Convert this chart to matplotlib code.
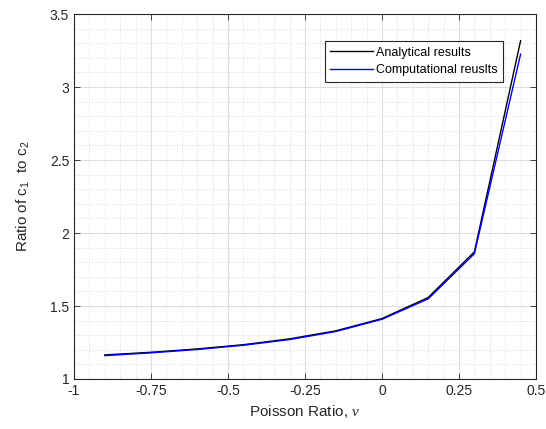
"""
Ratio of wave speeds c1/c2 against Poisson ratio, analytical vs computational
"""

import matplotlib
matplotlib.use("Agg")
import matplotlib.pyplot as plt
import numpy as np

plt.rcParams['font.family'] = ['Liberation Sans', 'DejaVu Sans']
plt.rcParams['mathtext.fontset'] = 'custom'
plt.rcParams['mathtext.rm'] = 'Liberation Sans'
plt.rcParams['mathtext.it'] = 'Liberation Serif:italic'

# data
poisson = [-0.9, -0.75, -0.6, -0.45, -0.3, -0.15, 0.0, 0.15, 0.3, 0.45]
analytical = [1.165, 1.183, 1.206, 1.235, 1.275, 1.330, 1.414, 1.558, 1.871, 3.317]
computational = [1.160, 1.179, 1.202, 1.231, 1.270, 1.325, 1.409, 1.549, 1.858, 3.225]

grey = (0.15, 0.15, 0.15)

fig = plt.figure(figsize=(5.46, 4.29), dpi=100)
ax = fig.add_axes([74/546, 1 - 379/429, (536 - 74)/546, (379 - 14)/429])

ax.plot(poisson, analytical, color="black", linewidth=1.0,
        label="Analytical results")
ax.plot(poisson, computational, color="blue", linewidth=1.0,
        label="Computational reuslts")

ax.set_xlim([-1, 0.5])
ax.set_ylim([1, 3.5])
ax.set_xticks(np.arange(-1, 0.51, 0.25))
ax.set_xticklabels(["-1", "-0.75", "-0.5", "-0.25", "0", "0.25", "0.5"])
ax.set_yticks(np.arange(1, 3.51, 0.5))
ax.set_yticklabels(["1", "1.5", "2", "2.5", "3", "3.5"])
ax.set_xticks(np.arange(-1, 0.51, 0.05), minor=True)
ax.set_yticks(np.arange(1, 3.51, 0.1), minor=True)

ax.grid(True, which="major", color=(0.87, 0.87, 0.87), linewidth=0.8)
ax.grid(True, which="minor", color=(0.82, 0.82, 0.82), linestyle=(0, (1, 2)),
        linewidth=0.6)
ax.set_axisbelow(True)

ax.tick_params(which="both", direction="in", top=True, right=True,
               colors=grey, labelsize=10)
ax.tick_params(which="major", length=4, width=0.6)
ax.tick_params(which="minor", length=0)
for spine in ax.spines.values():
    spine.set_color(grey)
    spine.set_linewidth(0.8)

ax.set_xlabel(r"Poisson Ratio, $\nu$", fontsize=11, color=grey)
ax.set_ylabel(r"Ratio of c$_{\mathregular{1}}$  to c$_{\mathregular{2}}$",
              fontsize=11, color=grey, labelpad=13)

leg = ax.legend(loc="upper right", bbox_to_anchor=(0.9286, 0.926),
                fontsize=9, fancybox=False, framealpha=1, edgecolor=grey,
                handlelength=3.4, borderpad=0.45, labelspacing=0.45,
                handletextpad=0.25, borderaxespad=0)
leg.get_frame().set_linewidth(0.8)

fig.savefig("out.png", dpi=100)
plt.close(fig)
